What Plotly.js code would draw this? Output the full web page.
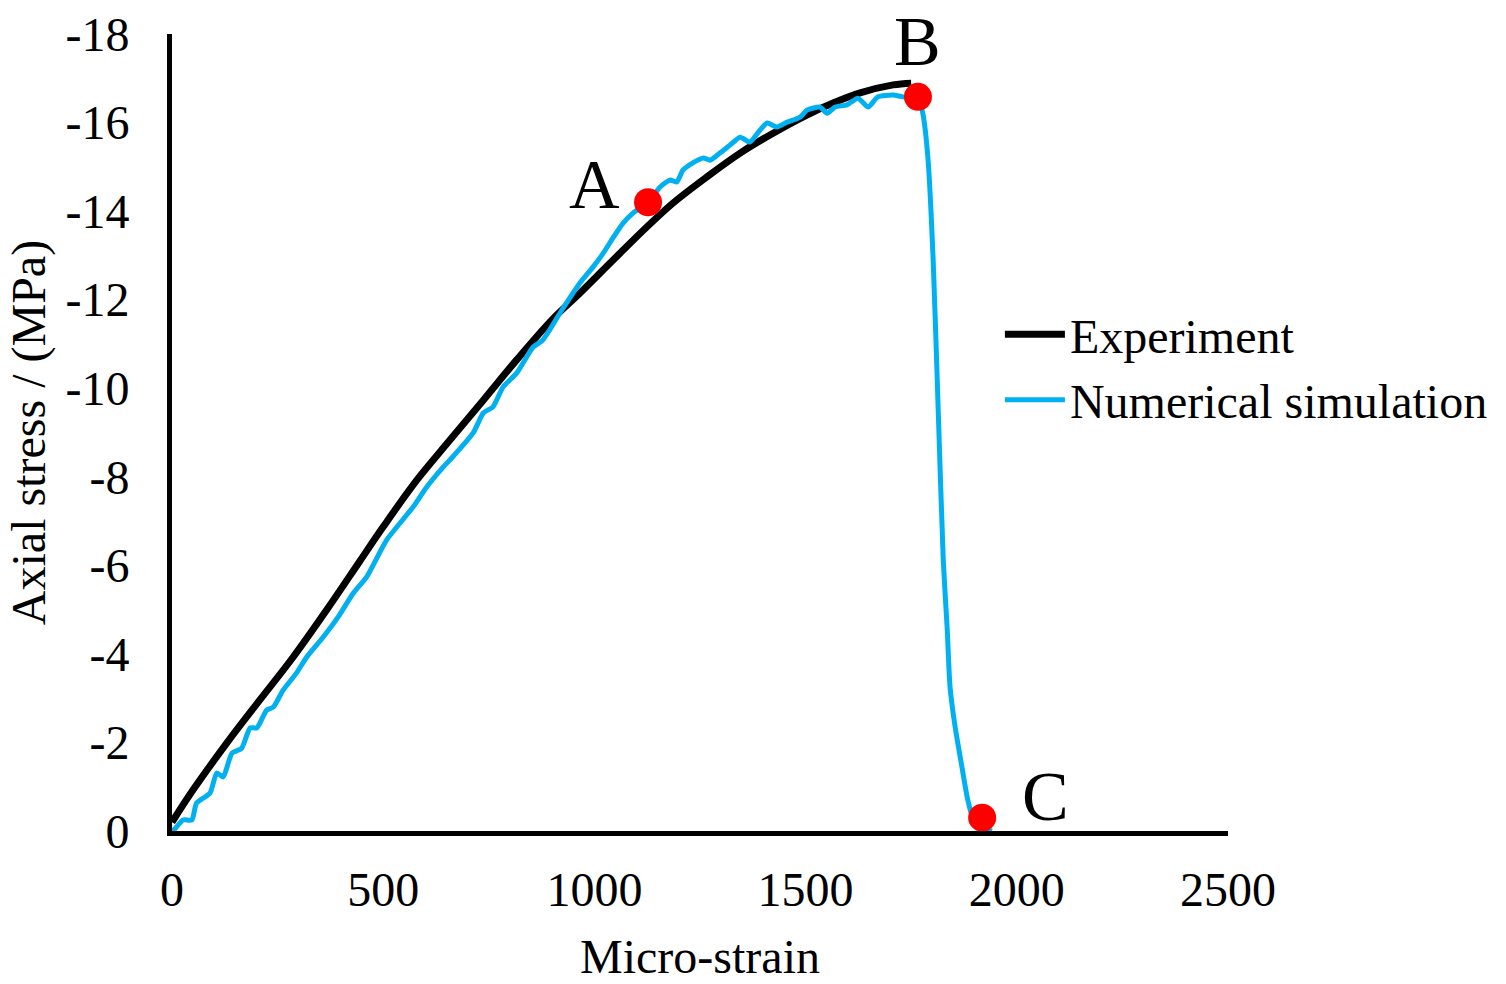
<!DOCTYPE html>
<html>
<head>
<meta charset="utf-8">
<script src="https://cdn.plot.ly/plotly-3.0.1.min.js"></script>
<style>html,body{margin:0;padding:0;background:#fff;}#chart{width:1506px;height:984px;}</style>
</head>
<body>
<div id="chart"></div>
<script>
// Experiment (black)
const expStrain = [0, 10, 50, 130, 208, 287, 366, 445, 500, 580, 658, 737, 816, 900, 966, 1045, 1124, 1186, 1266, 1345, 1423, 1503, 1565, 1629, 1707, 1750];
const expStress = [-0.2, -0.35, -0.93, -1.99, -2.96, -3.93, -4.99, -6.1, -6.87, -7.93, -8.83, -9.73, -10.64, -11.55, -12.15, -12.9, -13.64, -14.18, -14.77, -15.31, -15.76, -16.17, -16.44, -16.67, -16.85, -16.89];

// Numerical simulation (blue)
const simStrain = [0, 7, 26, 47, 58, 90, 106, 121, 142, 165, 185, 201, 224, 240, 263, 295, 319, 358, 393, 429,
  461, 508, 571, 603, 642, 658, 713, 737, 760, 784, 816, 855, 878, 922, 966, 997, 1021, 1045, 1068, 1092,
  1127, 1155, 1179, 1195, 1210, 1233, 1258, 1274, 1297, 1321, 1345, 1368, 1392, 1409, 1432, 1456, 1487, 1503, 1534, 1551, 1570, 1598,
  1624, 1648, 1671, 1707, 1731, 1766, 1778, 1790, 1802, 1814, 1826, 1835, 1842, 1854, 1870, 1884, 1901, 1941];
const simStress = [0, -0.05, -0.25, -0.25, -0.63, -0.86, -1.31, -1.22, -1.76, -1.87, -2.33, -2.33, -2.73, -2.8, -3.18, -3.57, -3.93, -4.38, -4.83, -5.37,
  -5.74, -6.57, -7.32, -7.77, -8.22, -8.38, -8.99, -9.44, -9.58, -10.03, -10.34, -10.93, -11.09, -11.75, -12.38, -12.74, -13.05, -13.41, -13.73, -13.96,
  -14.2, -14.54, -14.7, -14.66, -14.93, -15.09, -15.2, -15.15, -15.31, -15.49, -15.67, -15.56, -15.83, -15.99, -15.9, -16.01, -16.12, -16.28, -16.35, -16.21, -16.35, -16.4,
  -16.55, -16.35, -16.58, -16.62, -16.58, -16.58, -16.18, -15.15, -12.9, -9.5, -6.1, -4.61, -3.25, -2.35, -1.45, -0.7, -0.18, 0];

// Key points A, B, C
const pointLabels = ['A', 'B', 'C'];
const pointStrain = [1127, 1766, 1918];
const pointStress = [-14.2, -16.58, -0.3];
// label text positions
const labelStrain = [1001, 1766, 2069];
const labelStress = [-14.59, -17.82, -0.77];

const xTicks = [0, 500, 1000, 1500, 2000, 2500];
const yTicks = [0, -2, -4, -6, -8, -10, -12, -14, -16, -18];

const FONT = '"Liberation Serif", "Times New Roman", serif';

const traces = [
  {x: expStrain, y: expStress, name: 'Experiment', mode: 'lines', type: 'scatter',
   line: {color: '#000000', width: 7, shape: 'spline', smoothing: 1}},
  {x: simStrain, y: simStress, name: 'Numerical simulation', mode: 'lines', type: 'scatter',
   line: {color: '#00B0F0', width: 5, shape: 'spline', smoothing: 0.6}},
  {x: pointStrain, y: pointStress, mode: 'markers', type: 'scatter', showlegend: false,
   marker: {color: '#FF0000', size: 28}}
];

const annotations = pointLabels.map((t, i) => ({
  x: labelStrain[i], y: labelStress[i], xref: 'x', yref: 'y', text: t, showarrow: false,
  font: {family: FONT, size: 70, color: '#000'}, xanchor: 'center', yanchor: 'middle'
}));

const layout = {
  width: 1506, height: 984,
  margin: {l: 172, r: 278, t: 34, b: 153},
  paper_bgcolor: '#fff', plot_bgcolor: '#fff',
  font: {family: FONT, color: '#000'},
  showlegend: true,
  legend: {x: 0.784, y: 0.6705, xanchor: 'left', yanchor: 'top', bgcolor: 'rgba(0,0,0,0)',
           itemwidth: 60,
           font: {family: FONT, size: 48, color: '#000'}, tracegroupgap: 0},
  xaxis: {range: [0, 2500], tickvals: xTicks, ticktext: xTicks.map(String), showgrid: false, zeroline: false,
          showline: true, linecolor: '#000', linewidth: 5, ticks: '', ticklabelstandoff: 12,
          tickfont: {family: FONT, size: 48, color: '#000'},
          title: {text: 'Micro-strain', font: {family: FONT, size: 48, color: '#000'}, standoff: 26}},
  yaxis: {range: [0, -18], tickvals: yTicks, ticktext: yTicks.map(String), showgrid: false, zeroline: false,
          showline: true, linecolor: '#000', linewidth: 5, ticks: '', ticklabelstandoff: 28,
          tickfont: {family: FONT, size: 48, color: '#000'},
          title: {text: 'Axial stress / (MPa)', font: {family: FONT, size: 48, color: '#000'}, standoff: 6}},
  annotations: annotations
};

Plotly.newPlot('chart', traces, layout, {displayModeBar: false, staticPlot: true});
</script>
</body>
</html>
